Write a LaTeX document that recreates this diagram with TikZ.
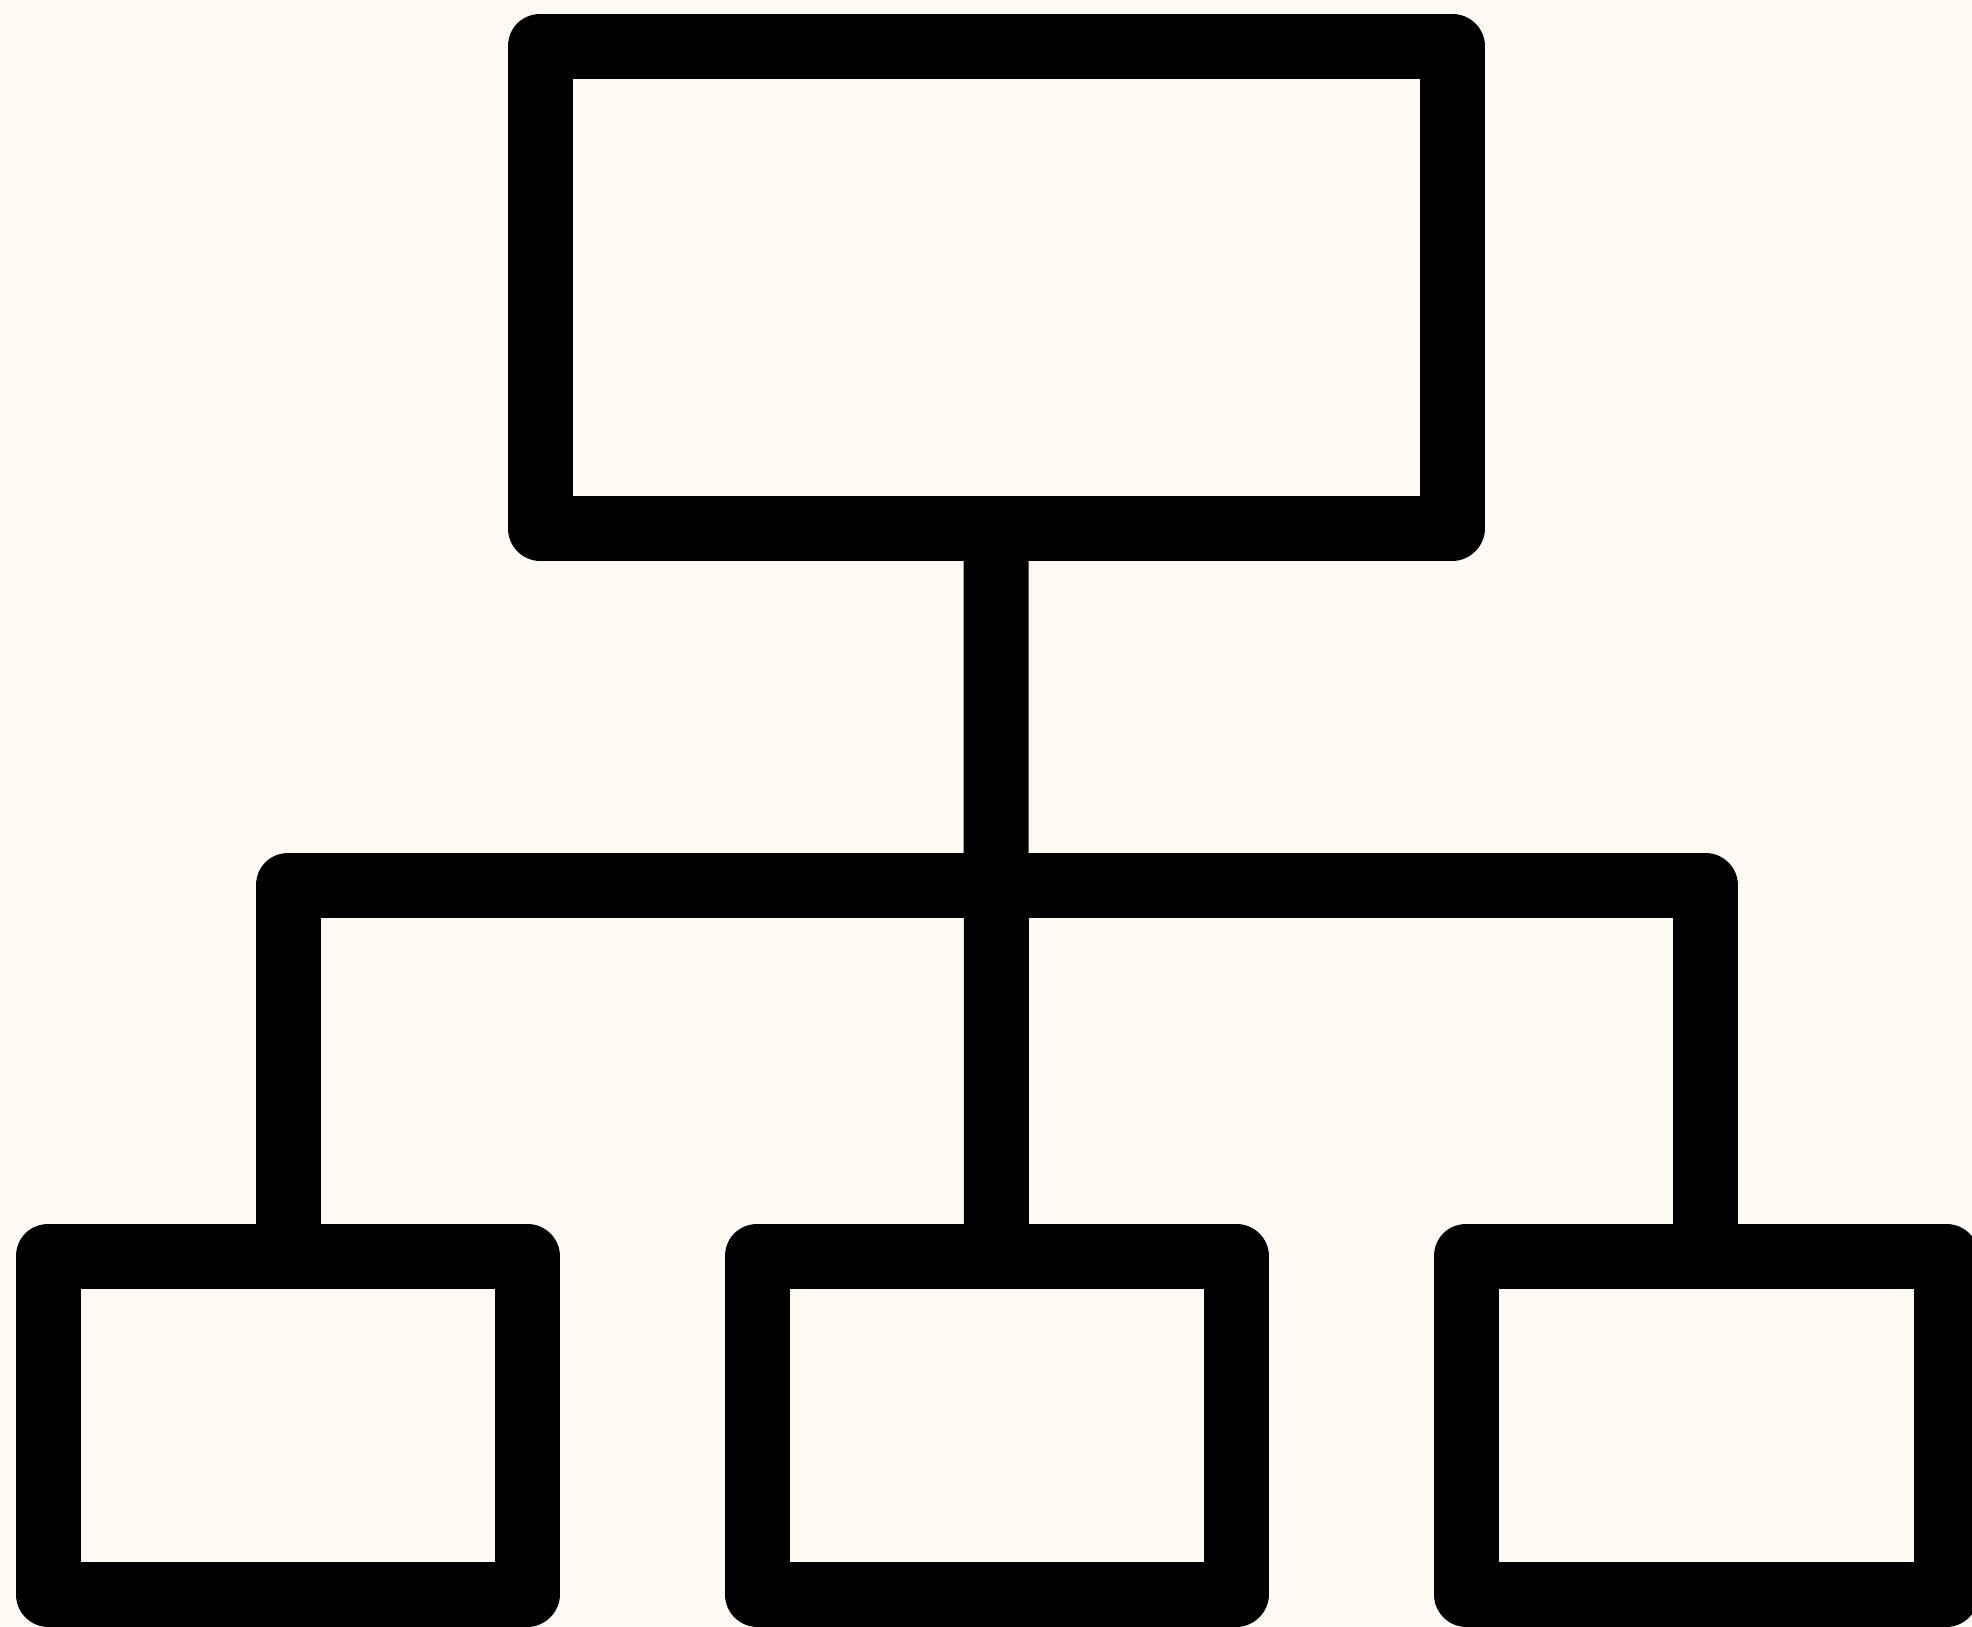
\documentclass[tikz,border=0pt]{standalone}
\definecolor{bgcream}{HTML}{FFF9F4}
\begin{document}
\begin{tikzpicture}[x=1pt,y=-1pt,
  orgbox/.style={draw=black,line width=65pt,line join=round,fill=bgcream,
    rectangle,inner sep=0pt,outer sep=0pt},
  orgline/.style={draw=black,line width=65pt,line join=round,line cap=butt}]
\fill[bgcream] (0,0) rectangle (1972,1626);
\useasboundingbox (0,0) rectangle (1972,1626);
% connectors (drawn first, boxes on top)
\coordinate (j) at (997,885);
\node[orgbox,minimum width=912pt,minimum height=482pt] (top) at (996,287) {};
\node[orgbox,minimum width=479pt,minimum height=338pt] (b1) at (287.5,1425) {};
\node[orgbox,minimum width=479pt,minimum height=338pt] (b2) at (996.5,1425) {};
\node[orgbox,minimum width=480pt,minimum height=338pt] (b3) at (1706,1425) {};
\draw[orgline] (b1.north -| 288,0) |- (j) -| (b3.north -| 1705,0);
\draw[orgline] (top.south) -- (b2.north);
\end{tikzpicture}
\end{document}
